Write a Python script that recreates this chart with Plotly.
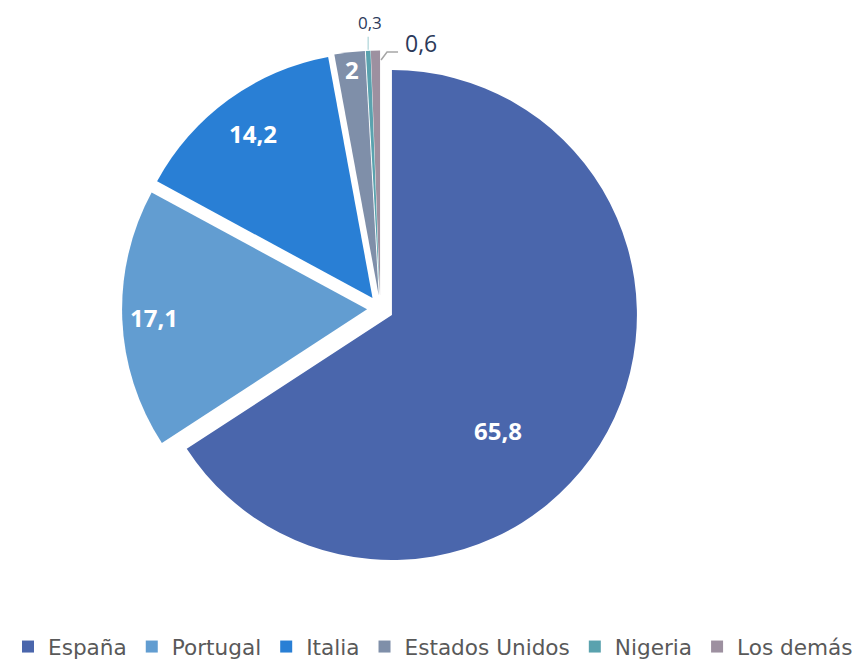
import math
import plotly.graph_objects as go

countries = ["España", "Portugal", "Italia", "Estados Unidos", "Nigeria", "Los demás"]
shares = [65.8, 17.1, 14.2, 2, 0.3, 0.6]
value_labels = ["65,8", "17,1", "14,2", "2", "0,3", "0,6"]
colors = ["#4a66ac", "#629dd1", "#297fd5", "#7f8fa9", "#5aa2ae", "#9d90a0"]

# ---- layout constants (figure pixels; page body adds an 8px offset) ----
W, H = 857, 653
CX, CY = 372.3, 300.7      # pie centre
R = 245.0                  # pie radius
PULL = 0.054
HALF = R * (1 + PULL)

# label placement style: fraction of radius from slice tip, extra angle (deg)
inside_frac = [0.64, 0.87, 0.83, 0.93]
inside_shift = [19.2, 0, 0, 0]
INSIDE_FONT = dict(family="Open Sans", size=24, color="white", weight="bold")
OUT_COLOR = "#2c3a5a"


def px(x, y):
    return x / W, 1 - y / H


fig = go.Figure(
    go.Pie(
        labels=countries,
        values=shares,
        marker=dict(colors=colors, line=dict(width=0)),
        sort=False,
        direction="clockwise",
        rotation=0,
        pull=PULL,
        textinfo="none",
        domain=dict(
            x=[(CX - HALF) / W, (CX + HALF) / W],
            y=[1 - (CY + HALF) / H, 1 - (CY - HALF) / H],
        ),
        hoverinfo="label+value",
    )
)

total = sum(shares)
starts = []
acc = 0.0
for v in shares:
    starts.append(acc)
    acc += v

geom = []
for i, v in enumerate(shares):
    theta = 360.0 * (starts[i] + v / 2) / total
    t = math.radians(theta)
    tipx = CX + PULL * R * math.sin(t)
    tipy = CY - PULL * R * math.cos(t)
    outx = tipx + R * math.sin(t)
    outy = tipy - R * math.cos(t)
    geom.append((theta, tipx, tipy, outx, outy))

annotations = []
for i in range(4):
    theta, tipx, tipy, _, _ = geom[i]
    t = math.radians(theta + inside_shift[i])
    lx = tipx + inside_frac[i] * R * math.sin(t)
    ly = tipy - inside_frac[i] * R * math.cos(t)
    ax, ay = px(lx, ly)
    annotations.append(dict(x=ax, y=ay, xref="paper", yref="paper", text=value_labels[i],
                            showarrow=False, xanchor="center", yanchor="middle",
                            font=INSIDE_FONT))

shapes = []
# Nigeria (small label above, thin leader)
_, _, _, nx, ny = geom[4]
x0, y0 = px(nx, ny - 1)
x1, y1 = px(nx, ny - 14)
shapes.append(dict(type="line", xref="paper", yref="paper", x0=x0, y0=y0, x1=x1, y1=y1,
                   line=dict(color="#9ccbd0", width=1)))
ax, ay = px(nx + 1.8, ny - 28.5)
annotations.append(dict(x=ax, y=ay, xref="paper", yref="paper", text=value_labels[4],
                        showarrow=False, xanchor="center", yanchor="middle",
                        font=dict(family="Open Sans", size=17, color=OUT_COLOR)))

# Los demás (label to the right with elbow leader)
_, _, _, ox, oy = geom[5]
p0 = px(ox + 5.6, oy + 9.5)
p1 = px(ox + 11.6, oy + 1.5)
p2 = px(ox + 22.6, oy + 1.5)
shapes.append(dict(type="path", xref="paper", yref="paper",
                   path=f"M {p0[0]} {p0[1]} L {p1[0]} {p1[1]} L {p2[0]} {p2[1]}",
                   line=dict(color="#a6a6a6", width=1.5)))
ax, ay = px(ox + 27.6, oy - 7.5)
annotations.append(dict(x=ax, y=ay, xref="paper", yref="paper", text=value_labels[5],
                        showarrow=False, xanchor="left", yanchor="middle",
                        font=dict(family="Open Sans", size=23, color=OUT_COLOR)))

fig.update_layout(
    width=W,
    height=H,
    margin=dict(l=0, r=0, t=0, b=0, autoexpand=False),
    paper_bgcolor="white",
    plot_bgcolor="white",
    separators=",.",
    showlegend=True,
    annotations=annotations,
    shapes=shapes,
    legend=dict(
        orientation="h",
        x=0,
        xanchor="left",
        y=1 - 639 / H,
        yanchor="middle",
        font=dict(family="DejaVu Sans", size=21.6, color="#595959"),
        itemwidth=30,
        traceorder="normal",
    ),
)

fig.write_html("out.html")
